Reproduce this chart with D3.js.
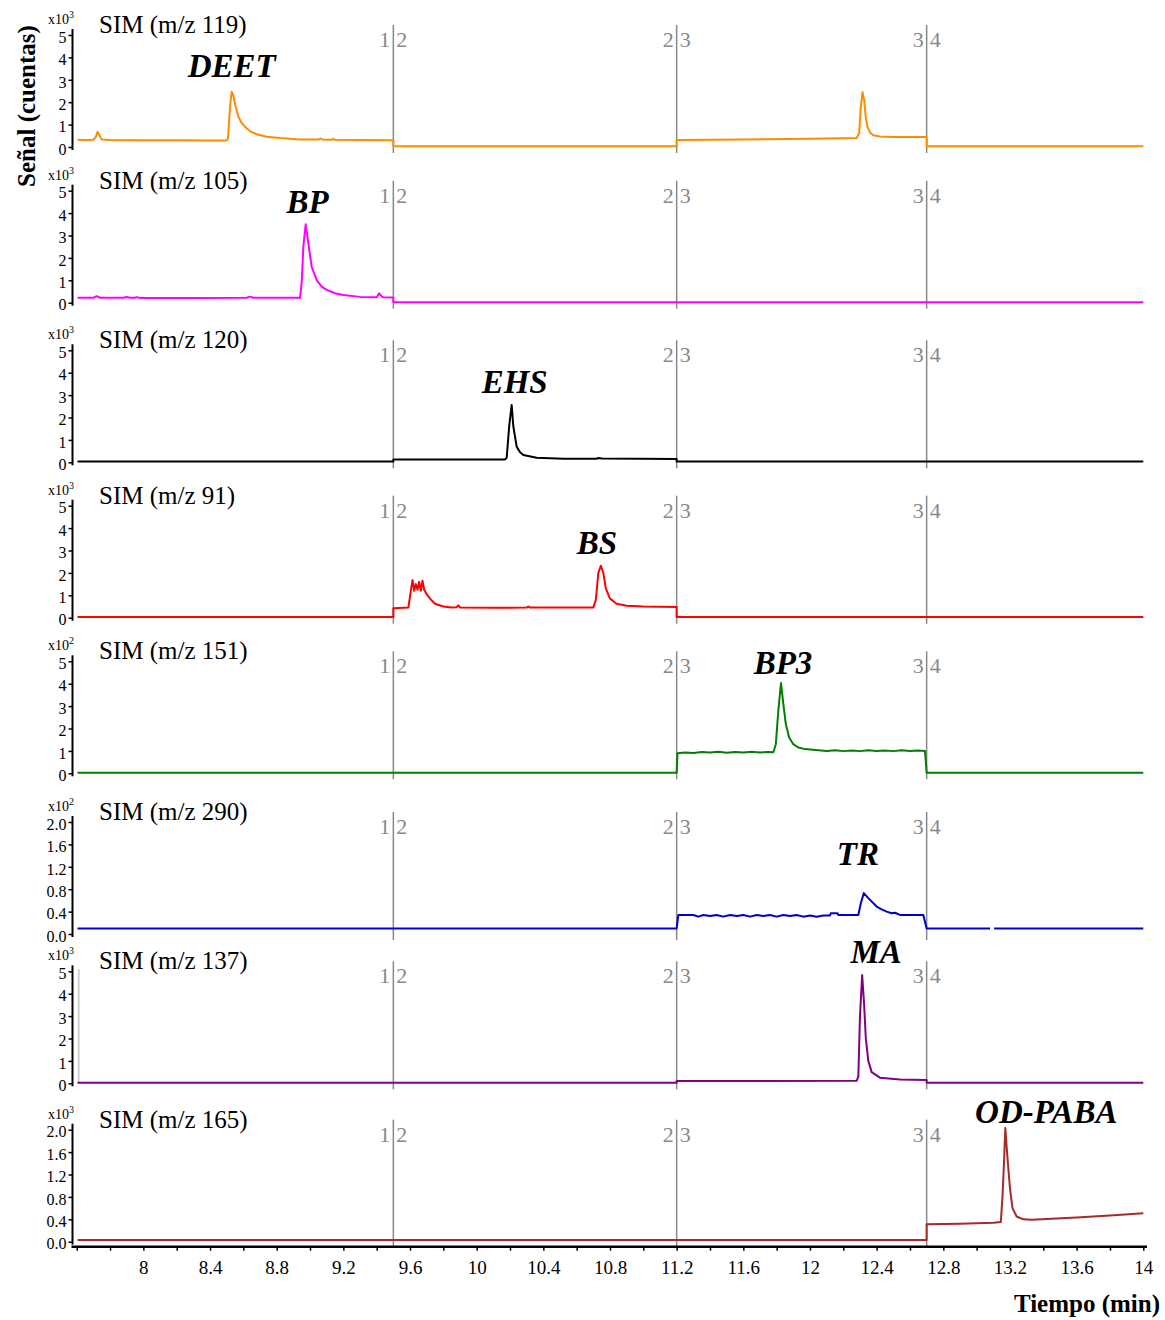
<!DOCTYPE html>
<html>
<head>
<meta charset="utf-8">
<script src="https://cdn.jsdelivr.net/npm/d3@7"></script>
<style>
  body { margin: 0; background: #fff; }
  svg { font-family: "Liberation Serif", "Times New Roman", serif; }
</style>
</head>
<body>
<svg id="chart" width="1165" height="1320"></svg>
<script>
// ---- data ----
const channels = ['SIM (m/z 119)', 'SIM (m/z 105)', 'SIM (m/z 120)', 'SIM (m/z 91)',
                  'SIM (m/z 151)', 'SIM (m/z 290)', 'SIM (m/z 137)', 'SIM (m/z 165)'];
const compounds = ['DEET', 'BP', 'EHS', 'BS', 'BP3', 'TR', 'MA', 'OD-PABA'];
const exponents = ['3', '3', '3', '3', '2', '2', '3', '3'];
const yMax = [5, 5, 5, 5, 5, 2, 5, 2];
const ticksInt = [0, 1, 2, 3, 4, 5];
const ticksDec = [0, 0.4, 0.8, 1.2, 1.6, 2.0];
const segmentBreaks = [9.5, 11.2, 12.7];
const xTickLabels = ['8', '8.4', '8.8', '9.2', '9.6', '10', '10.4', '10.8', '11.2',
                     '11.6', '12', '12.4', '12.8', '13.2', '13.6', '14'];

const sim119 = [[7.605,0.32],[7.65,0.31],[7.70,0.32],[7.715,0.45],[7.725,0.68],[7.735,0.55],[7.75,0.33],
  [7.8,0.31],[8.0,0.3],[8.2,0.3],[8.4,0.29],[8.5,0.29],[8.508,0.4],[8.52,1.8],[8.53,2.47],[8.54,2.3],
  [8.555,1.75],[8.57,1.35],[8.59,1.07],[8.61,0.9],[8.64,0.7],[8.68,0.57],[8.74,0.46],[8.82,0.4],
  [8.94,0.34],[9.05,0.33],[9.065,0.38],[9.075,0.33],[9.13,0.32],[9.14,0.36],[9.15,0.32],[9.3,0.31],
  [9.5,0.3],[9.5,0.03],[11.2,0.03],[11.2,0.31],[11.6,0.34],[12.0,0.37],[12.28,0.4],[12.295,0.6],
  [12.305,1.8],[12.315,2.45],[12.325,2.1],[12.335,1.3],[12.345,0.9],[12.36,0.65],[12.38,0.52],
  [12.42,0.47],[12.5,0.45],[12.7,0.45],[12.7,0.03],[14.0,0.03]];

const sim105 = [[7.605,0.22],[7.7,0.22],[7.72,0.29],[7.74,0.22],[7.88,0.22],[7.9,0.25],[7.92,0.22],
  [7.95,0.22],[7.96,0.25],[7.98,0.21],[8.3,0.21],[8.62,0.22],[8.64,0.27],[8.66,0.22],[8.94,0.22],
  [8.95,0.9],[8.96,2.5],[8.974,3.5],[8.99,2.65],[9.01,1.6],[9.04,1.01],[9.07,0.72],[9.1,0.57],
  [9.15,0.42],[9.2,0.34],[9.3,0.26],[9.4,0.24],[9.415,0.42],[9.43,0.28],[9.44,0.24],[9.5,0.23],
  [9.5,0.02],[14.0,0.02]];

const sim120 = [[7.605,0.04],[9.5,0.04],[9.5,0.13],[10.17,0.13],[10.18,0.2],[10.195,1.6],[10.21,2.56],
  [10.22,1.6],[10.24,0.7],[10.26,0.45],[10.28,0.33],[10.36,0.2],[10.52,0.16],[10.72,0.16],[10.73,0.19],
  [10.75,0.17],[11.2,0.15],[11.2,0.04],[14.0,0.04]];

const sim91 = [[7.605,0.03],[9.5,0.03],[9.5,0.42],[9.59,0.45],[9.605,1.2],[9.615,1.68],[9.625,1.2],
  [9.635,1.5],[9.645,1.25],[9.655,1.6],[9.665,1.2],[9.675,1.65],[9.685,1.25],[9.7,1.05],[9.72,0.85],
  [9.75,0.62],[9.8,0.5],[9.85,0.46],[9.88,0.47],[9.89,0.55],[9.9,0.46],[10.1,0.44],[10.3,0.45],
  [10.31,0.5],[10.32,0.45],[10.5,0.45],[10.7,0.46],[10.715,0.8],[10.73,2.0],[10.745,2.32],[10.76,2.0],
  [10.775,1.3],[10.8,0.85],[10.84,0.62],[10.9,0.53],[11.0,0.5],[11.2,0.48],[11.2,0.03],[14.0,0.03]];

const sim151 = [[7.605,0.03],[11.2,0.03],[11.205,0.9],[11.25,0.93],[11.3,0.91],[11.35,0.95],[11.4,0.93],
  [11.45,0.96],[11.5,0.92],[11.55,0.95],[11.6,0.93],[11.65,0.96],[11.7,0.93],[11.75,0.95],[11.78,0.94],
  [11.795,1.3],[11.81,2.8],[11.826,4.03],[11.84,3.1],[11.855,2.2],[11.875,1.6],[11.9,1.3],[11.93,1.15],
  [11.97,1.08],[12.05,1.03],[12.1,1.0],[12.15,1.03],[12.2,0.99],[12.25,1.02],[12.3,0.99],[12.35,1.03],
  [12.4,1.0],[12.45,1.02],[12.5,0.99],[12.55,1.03],[12.6,1.0],[12.65,1.02],[12.69,1.0],[12.7,0.03],
  [14.0,0.03]];

const sim290 = [[7.605,0.1],[11.2,0.1],[11.21,0.34],[11.3,0.34],[11.33,0.31],[11.36,0.34],[11.4,0.32],
  [11.44,0.34],[11.48,0.31],[11.52,0.34],[11.56,0.32],[11.6,0.34],[11.64,0.31],[11.68,0.34],[11.72,0.32],
  [11.76,0.34],[11.8,0.31],[11.84,0.34],[11.88,0.32],[11.92,0.34],[11.96,0.31],[12.0,0.33],[12.04,0.31],
  [12.08,0.33],[12.12,0.33],[12.125,0.37],[12.165,0.37],[12.17,0.34],[12.29,0.34],
  [12.305,0.55],[12.323,0.73],[12.35,0.64],[12.4,0.49],[12.43,0.44],[12.46,0.4],[12.49,0.37],
  [12.51,0.38],[12.54,0.34],[12.68,0.34],[12.7,0.1],[13.08,0.1],[13.08,null],[13.105,null],
  [13.105,0.1],[14.0,0.1]];

const sim137 = [[7.605,0.03],[11.2,0.03],[11.2,0.1],[12.28,0.11],[12.29,0.3],[12.30,3.0],[12.313,4.83],
  [12.325,3.5],[12.335,2.0],[12.35,1.0],[12.37,0.5],[12.42,0.25],[12.54,0.17],[12.7,0.15],[12.7,0.03],
  [14.0,0.03]];

const sim165 = [[7.605,0.03],[12.7,0.03],[12.7,0.31],[12.9,0.32],[13.1,0.34],[13.145,0.35],[13.155,0.8],
  [13.164,1.4],[13.172,2.03],[13.185,1.5],[13.2,0.95],[13.215,0.6],[13.24,0.45],[13.28,0.4],
  [13.33,0.39],[13.6,0.43],[13.8,0.47],[14.0,0.51]];

const traces = [sim119, sim105, sim120, sim91, sim151, sim290, sim137, sim165];

// ---- layout / style ----
const colors = ['#ff8c00', '#ff00ff', '#000000', '#ff0000', '#008000', '#0000cd', '#800080', '#a52a2a'];
const zeroY = [147, 302.7, 462.3, 617.7, 773.3, 934, 1083.3, 1241.7];
const panelH = 112;
const axisX = 72.5;
// compound label offset from the peak apex [dx, dy]
const labelOffsets = [[0, -15], [2, -11], [3, -12], [-4, -12], [2, -9], [-6, -28], [14, -12], [41, -5]];

const svg = d3.select('#chart');

const x = d3.scaleLinear().domain([7.6, 14.0]).range([76.7, 1143.3]);

const line = d3.line()
    .defined(d => d[1] !== null)
    .x(d => x(d[0]));

traces.forEach((data, i) => {
    const z = zeroY[i];
    const y = d3.scaleLinear().domain([0, yMax[i]]).range([z, z - panelH]);
    const g = svg.append('g').attr('class', 'panel');

    // segment separators + numbers
    segmentBreaks.forEach((t, k) => {
        g.append('line')
            .attr('x1', x(t)).attr('x2', x(t))
            .attr('y1', z - 122).attr('y2', z + 6)
            .attr('stroke', '#888').attr('stroke-width', 1.5);
        g.append('text')
            .attr('x', x(t) - 3).attr('y', z - 100)
            .attr('text-anchor', 'end')
            .attr('font-size', 22).attr('fill', '#888')
            .text(k + 1);
        g.append('text')
            .attr('x', x(t) + 3).attr('y', z - 100)
            .attr('font-size', 22).attr('fill', '#888')
            .text(k + 2);
    });

    // faint start artifact in m/z 137
    if (i === 6) {
        g.append('line')
            .attr('x1', x(7.612)).attr('x2', x(7.612))
            .attr('y1', y(0)).attr('y2', y(5.1))
            .attr('stroke', '#d0d0d0').attr('stroke-width', 2);
    }

    // trace
    g.append('path')
        .datum(data)
        .attr('d', line.y(d => y(d[1])))
        .attr('fill', 'none')
        .attr('stroke', colors[i])
        .attr('stroke-width', 2)
        .attr('stroke-linejoin', 'round');

    // y axis
    const tv = yMax[i] === 5 ? ticksInt : ticksDec;
    const yAxis = g.append('g')
        .attr('transform', `translate(${axisX},0)`)
        .call(d3.axisLeft(y).tickValues(tv).tickSize(4).tickPadding(2)
            .tickFormat(d => yMax[i] === 5 ? d3.format('d')(d) : d3.format('.1f')(d)));
    yAxis.select('.domain').remove();
    yAxis.selectAll('.tick line').attr('stroke', '#000').attr('stroke-width', 1.5);
    yAxis.selectAll('.tick text')
        .attr('font-family', '"Liberation Serif", serif')
        .attr('font-size', 16).attr('fill', '#000')
        .attr('dy', '0.45em');
    g.append('line')
        .attr('x1', axisX).attr('x2', axisX)
        .attr('y1', z + 3).attr('y2', z - 118)
        .attr('stroke', '#000').attr('stroke-width', 2);

    // multiplier
    const mult = g.append('text').attr('x', 48).attr('y', z - 123).attr('font-size', 14);
    mult.append('tspan').text('x10');
    mult.append('tspan').attr('font-size', 10).attr('dy', -6).text(exponents[i]);

    // channel title
    g.append('text')
        .attr('x', 99).attr('y', z - 114)
        .attr('font-size', 25)
        .text(channels[i]);

    // compound label above the main peak
    const apex = data.filter(d => d[1] !== null).reduce((a, b) => (b[1] > a[1] ? b : a));
    g.append('text')
        .attr('x', x(apex[0]) + labelOffsets[i][0])
        .attr('y', y(apex[1]) + labelOffsets[i][1])
        .attr('text-anchor', 'middle')
        .attr('font-size', 33).attr('font-weight', 'bold').attr('font-style', 'italic')
        .text(compounds[i]);
});

// bottom time axis
const xTickValues = d3.range(0, 33).map(k => +(7.6 + k * 0.2).toFixed(1));
const xAxis = svg.append('g')
    .attr('transform', 'translate(0,1246.7)')
    .call(d3.axisBottom(x).tickValues(xTickValues).tickSize(4).tickPadding(10)
        .tickFormat(d => {
            const s = d3.format('~g')(d);
            return xTickLabels.includes(s) ? s : '';
        }));
xAxis.select('.domain').remove();
xAxis.selectAll('.tick line').attr('stroke', '#000').attr('stroke-width', 1.5);
xAxis.selectAll('.tick text')
    .attr('font-family', '"Liberation Serif", serif')
    .attr('font-size', 19).attr('fill', '#000');
svg.append('line')
    .attr('x1', 71.5).attr('x2', 1147)
    .attr('y1', 1246.7).attr('y2', 1246.7)
    .attr('stroke', '#000').attr('stroke-width', 2.5);

// axis titles
svg.append('text')
    .attr('transform', 'translate(35,106) rotate(-90)')
    .attr('text-anchor', 'middle')
    .attr('font-size', 25).attr('font-weight', 'bold')
    .text('Señal (cuentas)');

svg.append('text')
    .attr('x', 1160).attr('y', 1312)
    .attr('text-anchor', 'end')
    .attr('font-size', 25).attr('font-weight', 'bold')
    .text('Tiempo (min)');
</script>
</body>
</html>
